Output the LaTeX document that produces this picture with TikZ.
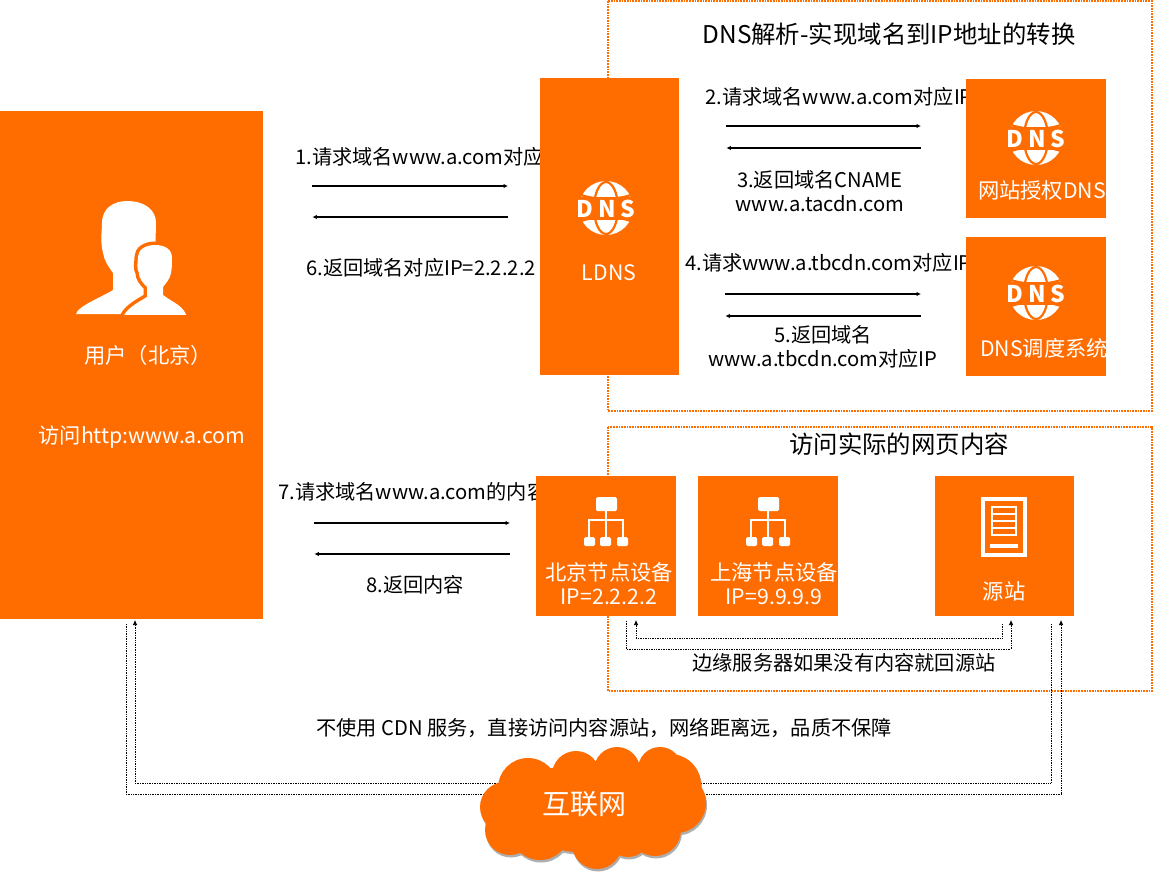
\documentclass[tikz,border=0pt]{standalone}
\usepackage{fontspec}
\setmainfont{Noto Sans CJK SC}
\usetikzlibrary{arrows.meta}
\definecolor{cdnorange}{RGB}{255,108,0}
\tikzset{
  panel/.style={fill=cdnorange,draw=none,inner sep=0pt,anchor=north west},
  frame/.style={draw=cdnorange,line width=1.7pt,densely dotted},
  flow/.style={-{Latex[length=4.5pt,width=4.5pt]},line width=1.1pt},
  backflow/.style={{Latex[length=4.5pt,width=4.5pt]}-,line width=1.1pt},
  trace/.style={-{Latex[length=5pt,width=4.5pt]},line width=0.7pt,densely dotted},
  caption/.style={font=\fontsize{20.2}{24}\selectfont,align=center,inner sep=0pt},
  whitecap/.style={caption,text=white,font=\fontsize{21.3}{24}\selectfont},
  dnsglobe/.pic={
    \fill[white] (0,0) circle (27);
    \draw[cdnorange,line width=2.2pt] (0,0) ellipse (12 and 26);
    \draw[cdnorange,line width=2.2pt] (-25,-13) .. controls (-10,-8) and (10,-8) .. (25,-13);
    \draw[cdnorange,line width=2.2pt] (-25,13) .. controls (-10,8) and (10,8) .. (25,13);
    \fill[cdnorange] (-29,-11) rectangle (29,12);
    \node[white,inner sep=0pt,font=\fontsize{23}{23}\selectfont\bfseries] at (0,1) {D\hspace{4.5pt}N\hspace{4.5pt}S};
  },
  sitemap/.pic={
    \draw[white,line width=1.6pt] (0,-10) -- (0,16) (-17,16) |- (17,-1) -- (17,16) (0,-1) -- (-17,-1);
    \fill[white,rounded corners=1.5pt] (-10,-24) rectangle (11,-10);
    \foreach \x in {-22,-6,11}
      \fill[white,rounded corners=1.5pt] (\x,16) rectangle ++(11,9);
  }
}
\newcommand{\cloudbumps}{
  (593,808) ellipse (90 and 45)
  (528,788) circle (30) (576,775) circle (24) (617,770) circle (23)
  (660,769) circle (22) (670,785) circle (31) (676,803) circle (30)
  (655,830) circle (26) (628,835) circle (22) (597,844) circle (25)
  (540,830) circle (30) (505,807) circle (25) (510,830) circle (25)
}
\newcommand{\childshape}{
  (123,318) .. controls (125,310) and (135,304) .. (147,297)
  -- (147,287) .. controls (142,282) and (139,278) .. (139,273) .. controls (136,268) and (138,262) .. (138,257)
  .. controls (138,250) and (145,245) .. (155,245) .. controls (166,245) and (172,250) .. (172,258)
  .. controls (172,264) and (172,268) .. (171,273) .. controls (170,279) and (166,283) .. (163,287)
  -- (163,295) .. controls (172,302) and (185,306) .. (187,318) -- cycle
}
\begin{document}
\begin{tikzpicture}[x=1pt,y=-1pt]
  \useasboundingbox (0,0) rectangle (1153,873);
  % dotted frames
  \draw[frame] (608,1) rectangle (1152,411);
  \draw[frame] (608,427) rectangle (1152,691);
  \node[caption,font=\fontsize{24.4}{28}\selectfont] (dnstitle) at (889,34) {DNS解析-实现域名到IP地址的转换};
  \node[caption,font=\fontsize{24.4}{28}\selectfont] (webtitle) at (899,444) {访问实际的网页内容};
  % step labels, the boxes are painted over their ends
  \node[caption,anchor=west] (step1) at (295,157) {1.请求域名www.a.com对应IP};
  \node[caption,anchor=west] (step2) at (705,97) {2.请求域名www.a.com对应IP};
  \node[caption] (step3) at (820,191) {3.返回域名CNAME\\www.a.tacdn.com};
  \node[caption,anchor=west] (step4) at (685,263) {4.请求www.a.tbcdn.com对应IP};
  \node[caption] (step5) at (823,347) {5.返回域名\\www.a.tbcdn.com对应IP};
  \node[caption,anchor=west] (step6) at (306,268) {6.返回域名对应IP=2.2.2.2};
  \node[caption,anchor=west] (step7) at (278,492) {7.请求域名www.a.com的内容};
  \node[caption] (step8) at (415,585) {8.返回内容};
  \node[caption] (edgenote) at (844,663) {边缘服务器如果没有内容就回源站};
  \node[caption] (directnote) at (604,728) {不使用 CDN 服务，直接访问内容源站，网络距离远，品质不保障};
  % orange boxes
  \node[panel,minimum width=263,minimum height=508] (user) at (0,111) {};
  \node[panel,minimum width=139,minimum height=297] (ldns) at (540,78) {};
  \node[panel,minimum width=140,minimum height=139] (auth) at (966,79) {};
  \node[panel,minimum width=140,minimum height=139] (sched) at (966,237) {};
  \node[panel,minimum width=140,minimum height=140] (beijing) at (536,476) {};
  \node[panel,minimum width=140,minimum height=140] (shanghai) at (698,476) {};
  \node[panel,minimum width=139,minimum height=140] (origin) at (935,476) {};
  % two people
  \begin{scope}
    \clip (60,190) rectangle (200,314);
    \fill[white] (76,314) .. controls (78,306) and (100,298) .. (113,290) -- (113,273)
      .. controls (108,266) and (104,260) .. (103,253) .. controls (100,240) and (102,232) .. (102,223)
      .. controls (102,208) and (114,201) .. (127,201) .. controls (145,201) and (156,210) .. (156,223)
      -- (155,262) -- (150,314) -- cycle;
    \draw[cdnorange,line width=7pt] \childshape;
    \fill[white] \childshape;
  \end{scope}
  % icons
  \pic at (606,208) {dnsglobe};
  \pic at (1036,138) {dnsglobe};
  \pic at (1036,293) {dnsglobe};
  \pic at (606,521) {sitemap};
  \pic at (768,521) {sitemap};
  % page icon
  \draw[white,line width=4pt] (983,499) rectangle (1025,555);
  \fill[white] (990,543.5) rectangle (1018,548);
  \draw[white,line width=1.8pt] (992,507) rectangle (1016,535);
  \foreach \y in {514,521,528}
    \draw[white,line width=1.8pt] (992,\y) -- (1016,\y);
  % box captions
  \node[whitecap] (userlabel) at (148,355) {用户（北京）};
  \node[whitecap] (uservisit) at (142,437) {访问http:www.a.com};
  \node[whitecap] (ldnslabel) at (609,273) {LDNS};
  \node[whitecap] (authlabel) at (1042,190) {网站授权DNS};
  \node[whitecap] (schedlabel) at (1044,348) {DNS调度系统};
  \node[whitecap] (bjlabel) at (609,584) {北京节点设备\\IP=2.2.2.2};
  \node[whitecap] (shlabel) at (774,584) {上海节点设备\\IP=9.9.9.9};
  \node[whitecap] (originlabel) at (1004,591) {源站};
  % request and answer arrows
  \foreach \a/\b/\yreq/\yres/\sa/\sb in {user/ldns/186/217/49/32,ldns/auth/126/148/47/45,ldns/sched/294/316/46/45,user/beijing/523/554/51/26} {
    \draw[flow,shorten <=\sa pt,shorten >=\sb pt] (\a.east |- 0,\yreq) -- (\b.west |- 0,\yreq);
    \draw[backflow,shorten <=\sa pt,shorten >=\sb pt] (\a.east |- 0,\yres) -- (\b.west |- 0,\yres);
  }
  % traces between the edge node and the origin
  \coordinate (edgeback) at (636,620);
  \coordinate (edgeout) at (626,621);
  \coordinate (originout) at (1002,624);
  \coordinate (originin) at (1011,620);
  \draw[trace] (originout) |- (636,638) -- (edgeback);
  \draw[trace] (edgeout) |- (1011,649) -- (originin);
  % traces through the internet
  \coordinate (userin) at (135,620);
  \coordinate (userout) at (126,624);
  \coordinate (siteout) at (1051,624);
  \coordinate (sitein) at (1061,620);
  \draw[trace] (siteout) |- (135,783) -- (userin);
  \draw[trace] (userout) |- (1061,794) -- (sitein);
  % cloud with its shadow
  \fill[black!45,opacity=.7,xshift=1pt,yshift=-2.5pt] \cloudbumps;
  \fill[cdnorange] \cloudbumps;
  \node[whitecap,font=\fontsize{28}{32}\selectfont] (net) at (584,804) {互联网};
\end{tikzpicture}
\end{document}
